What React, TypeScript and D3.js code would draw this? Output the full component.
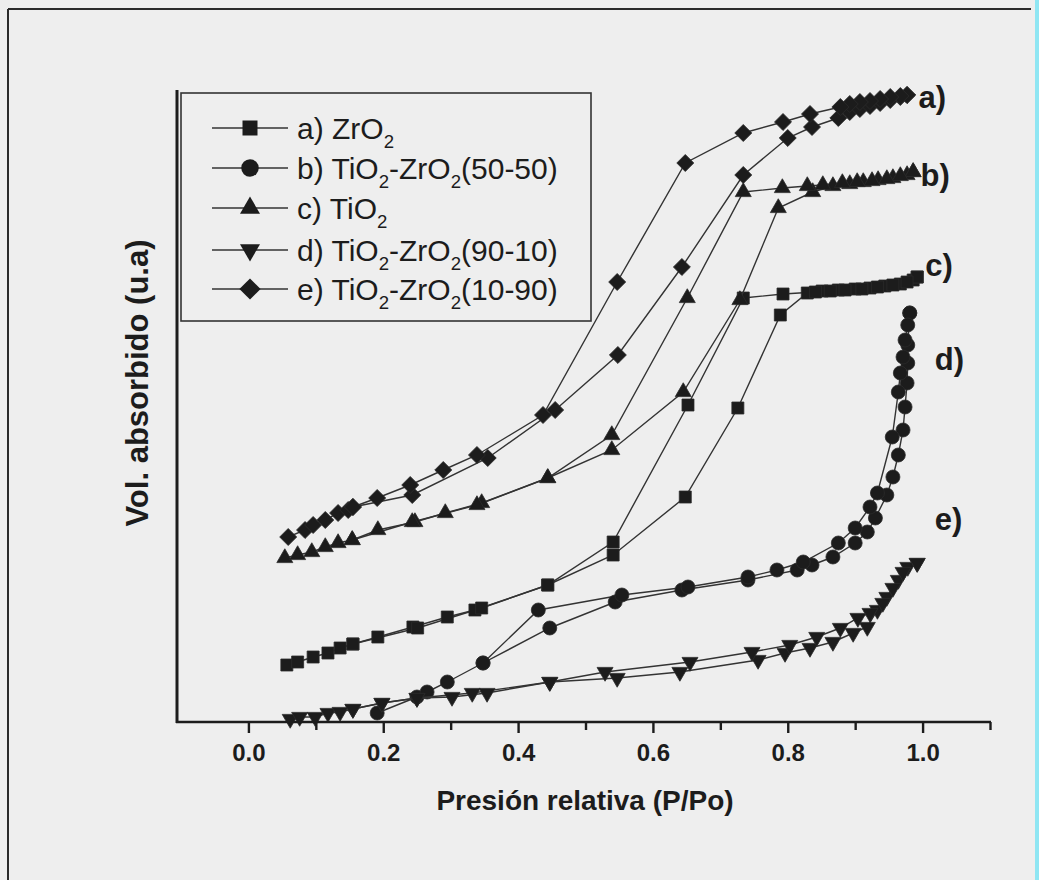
import React, { useEffect, useRef } from "react";
import * as d3 from "d3";

const W = 1039;
const H = 880;

const xMajorTicks = [0, 0.2, 0.4, 0.6, 0.8, 1.0];
const xMinorTicks = [0.1, 0.3, 0.5, 0.7, 0.9, 1.1];

const seriesNames = [
  "a) ZrO_2",
  "b) TiO_2-ZrO_2(50-50)",
  "c) TiO_2",
  "d) TiO_2-ZrO_2(90-10)",
  "e) TiO_2-ZrO_2(10-90)",
];
const seriesSymbols = ["square", "circle", "triangle", "triangleDown", "diamond"];
const endLabels = ["a)", "b)", "c)", "d)", "e)"];
const endLabelAt: [number, number][] = [
  [0.994, 614],
  [0.997, 536],
  [1.004, 446],
  [1.018, 352],
  [1.018, 192],
];

// a) ZrO2 — squares (P/Po, vol. u.a.)
const zro2Ads: [number, number][] = [
  [0.057, 57], [0.073, 60], [0.096, 65], [0.118, 69], [0.136, 74], [0.155, 78],
  [0.192, 85], [0.244, 95], [0.295, 105], [0.336, 112], [0.444, 137],
  [0.541, 167], [0.648, 225], [0.726, 314], [0.789, 407], [0.829, 429],
  [0.851, 431], [0.875, 432], [0.9, 433], [0.922, 434], [0.944, 436],
  [0.967, 438], [0.986, 442], [0.992, 445],
];
const zro2Des: [number, number][] = [
  [0.992, 445], [0.977, 440], [0.956, 437], [0.933, 435], [0.91, 433],
  [0.885, 432], [0.863, 431], [0.841, 430], [0.793, 428], [0.734, 424],
  [0.652, 317], [0.541, 180], [0.444, 137], [0.346, 114], [0.251, 94], [0.155, 78],
];

// b) TiO2-ZrO2 (50-50) — circles
const tz5050Ads: [number, number][] = [
  [0.191, 9], [0.25, 25], [0.265, 30], [0.295, 40], [0.348, 59],
  [0.447, 94], [0.544, 120], [0.643, 132], [0.741, 142], [0.814, 152],
  [0.836, 157], [0.867, 165], [0.9, 179], [0.918, 190], [0.93, 204],
  [0.947, 227], [0.956, 245], [0.964, 267], [0.971, 292], [0.974, 315],
  [0.977, 339], [0.978, 359], [0.978, 377], [0.981, 409],
];
const tz5050Des: [number, number][] = [
  [0.981, 409], [0.978, 397], [0.974, 382], [0.971, 365], [0.967, 349],
  [0.964, 330], [0.955, 285], [0.933, 229], [0.922, 215], [0.9, 194],
  [0.875, 179], [0.823, 160], [0.784, 152], [0.741, 145], [0.652, 135],
  [0.554, 127], [0.43, 112], [0.348, 59],
];

// c) TiO2 — triangles
const tio2Ads: [number, number][] = [
  [0.054, 164], [0.073, 167], [0.094, 170], [0.114, 175], [0.133, 179],
  [0.154, 182], [0.192, 192], [0.247, 200], [0.292, 209], [0.346, 219],
  [0.444, 244], [0.539, 272], [0.645, 330], [0.729, 422], [0.786, 514],
  [0.837, 530], [0.867, 536], [0.892, 538], [0.912, 540], [0.934, 542],
  [0.956, 544], [0.977, 547], [0.986, 550],
];
const tio2Des: [number, number][] = [
  [0.986, 550], [0.967, 546], [0.947, 543], [0.925, 541], [0.903, 540],
  [0.881, 539], [0.852, 537], [0.829, 536], [0.792, 534], [0.734, 530],
  [0.651, 424], [0.539, 287], [0.444, 244], [0.339, 217], [0.243, 200], [0.154, 182],
];

// d) TiO2-ZrO2 (90-10) — down triangles
const tz9010Ads: [number, number][] = [
  [0.062, 3], [0.076, 5], [0.099, 5], [0.118, 9], [0.136, 10], [0.155, 13],
  [0.198, 19], [0.25, 24], [0.332, 29], [0.447, 40], [0.547, 44],
  [0.64, 50], [0.756, 62], [0.796, 69], [0.833, 74], [0.867, 80],
  [0.897, 89], [0.918, 95], [0.933, 112], [0.947, 125], [0.964, 142],
  [0.978, 155], [0.992, 159],
];
const tz9010Des: [number, number][] = [
  [0.992, 159], [0.971, 150], [0.956, 134], [0.941, 119], [0.922, 109],
  [0.904, 104], [0.878, 94], [0.843, 85], [0.803, 77], [0.747, 70],
  [0.655, 60], [0.529, 50], [0.447, 40], [0.354, 29], [0.302, 25],
  [0.25, 24], [0.198, 19], [0.155, 13],
];

// e) TiO2-ZrO2 (10-90) — diamonds
const tz1090Ads: [number, number][] = [
  [0.059, 185], [0.084, 192], [0.096, 197], [0.114, 202], [0.133, 209],
  [0.148, 212], [0.155, 215], [0.243, 227], [0.355, 264], [0.455, 312],
  [0.548, 367], [0.643, 455], [0.734, 547], [0.8, 584], [0.836, 595],
  [0.875, 604], [0.892, 610], [0.907, 613], [0.922, 616], [0.937, 619],
  [0.952, 622], [0.967, 625], [0.977, 627],
];
const tz1090Des: [number, number][] = [
  [0.977, 627], [0.967, 626], [0.952, 625], [0.937, 623], [0.922, 621],
  [0.907, 620], [0.892, 618], [0.878, 615], [0.833, 608], [0.793, 600],
  [0.734, 589], [0.648, 559], [0.547, 440], [0.437, 307], [0.339, 267],
  [0.289, 252], [0.24, 237], [0.191, 224], [0.155, 215],
];

const seriesBranches: [number, number][][][] = [
  [zro2Ads, zro2Des],
  [tz5050Ads, tz5050Des],
  [tio2Ads, tio2Des],
  [tz9010Ads, tz9010Des],
  [tz1090Ads, tz1090Des],
];

const FONT = "'Liberation Sans', Arial, Helvetica, sans-serif";
const INK = "#1c1c1c";

function symbolPath(kind: string, s: number): string {
  if (kind === "circle") return d3.symbol(d3.symbolCircle, Math.PI * (s / 2) * (s / 2))() || "";
  if (kind === "triangle" || kind === "triangleDown")
    return d3.symbol(d3.symbolTriangle, (Math.sqrt(3) / 4) * s * s)() || "";
  return d3.symbol(d3.symbolSquare, s * s)() || "";
}
function symbolRotation(kind: string): number {
  if (kind === "diamond") return 45;
  if (kind === "triangleDown") return 180;
  return 0;
}
const markerSize: Record<string, number> = {
  square: 12,
  circle: 14,
  triangle: 16,
  triangleDown: 16,
  diamond: 12,
};

function LabelText({ label, x, y, size }: { label: string; x: number; y: number; size: number }) {
  const parts = label.split("_");
  const subSize = size * 0.62;
  const shift = size * 0.3;
  const nodes: React.ReactNode[] = [<tspan key="p0">{parts[0]}</tspan>];
  for (let i = 1; i < parts.length; i++) {
    const rest = parts[i].slice(1);
    nodes.push(
      <tspan key={"s" + i} fontSize={subSize} dy={shift}>
        {parts[i][0]}
      </tspan>
    );
    if (rest.length > 0) {
      nodes.push(
        <tspan key={"r" + i} fontSize={size} dy={-shift}>
          {rest}
        </tspan>
      );
    }
  }
  return (
    <text x={x} y={y} fontSize={size} fontFamily={FONT} fill={INK}>
      {nodes}
    </text>
  );
}

export default function App() {
  const x = d3.scaleLinear().domain([-0.1, 1.1]).range([181, 990]);
  const y = d3.scaleLinear().domain([0, 632]).range([722, 90]);
  const line = d3
    .line<[number, number]>()
    .x((d) => x(d[0]))
    .y((d) => y(d[1]));

  const majorRef = useRef<SVGGElement>(null);
  const minorRef = useRef<SVGGElement>(null);

  useEffect(() => {
    if (majorRef.current) {
      const g = d3.select(majorRef.current);
      g.call(
        d3
          .axisBottom(x)
          .tickValues(xMajorTicks)
          .tickSize(11)
          .tickSizeOuter(0)
          .tickPadding(11)
          .tickFormat(d3.format(".1f") as any)
      );
      g.select(".domain").remove();
      g.selectAll(".tick line").attr("stroke", INK).attr("stroke-width", 2.4);
      g.selectAll(".tick text")
        .attr("fill", INK)
        .attr("font-size", 24)
        .attr("font-weight", "bold")
        .attr("font-family", FONT);
    }
    if (minorRef.current) {
      const g = d3.select(minorRef.current);
      g.call(
        d3
          .axisBottom(x)
          .tickValues(xMinorTicks)
          .tickSize(8)
          .tickSizeOuter(0)
          .tickFormat(() => "")
      );
      g.select(".domain").remove();
      g.selectAll(".tick text").remove();
      g.selectAll(".tick line").attr("stroke", INK).attr("stroke-width", 2.4);
    }
  }, []);

  const legendRows = [128, 168, 208, 250, 289];

  return (
    <svg
      width={W}
      height={H}
      viewBox={`0 0 ${W} ${H}`}
      style={{ position: "absolute", left: 0, top: 0, display: "block" }}
    >
      <rect x={0} y={0} width={W} height={H} fill="#eeeeee" />
      {/* page frame */}
      <line x1={8} y1={9} x2={1031} y2={9} stroke="#2a2a2a" strokeWidth={2} />
      <line x1={8} y1={9} x2={8} y2={H} stroke="#2a2a2a" strokeWidth={2} />
      <rect x={1035} y={0} width={4} height={H} fill="#8fe6f3" />

      {/* legend box */}
      <rect x={181} y={93} width={410} height={228} fill="none" stroke="#333" strokeWidth={1.6} />

      {/* series */}
      {seriesBranches.map((branches, si) => {
        const kind = seriesSymbols[si];
        const p = symbolPath(kind, markerSize[kind]);
        const rot = symbolRotation(kind);
        return (
          <g key={si}>
            {branches.map((b, bi) => (
              <path key={bi} d={line(b) || ""} fill="none" stroke="#333" strokeWidth={1.4} />
            ))}
            {branches.map((b, bi) =>
              b.map((d, di) => (
                <path
                  key={bi + "-" + di}
                  d={p}
                  transform={`translate(${x(d[0])},${y(d[1])}) rotate(${rot})`}
                  fill={INK}
                  stroke="#2b2b2b"
                  strokeWidth={0.8}
                />
              ))
            )}
          </g>
        );
      })}

      {/* axes */}
      <line x1={177} y1={90} x2={177} y2={723} stroke={INK} strokeWidth={3} />
      <line x1={176} y1={722} x2={991} y2={722} stroke={INK} strokeWidth={2.6} />
      <g ref={majorRef} transform="translate(0,722)" />
      <g ref={minorRef} transform="translate(0,722)" />

      {/* legend entries */}
      {seriesNames.map((name, i) => {
        const kind = seriesSymbols[i];
        const cy = legendRows[i];
        const big = markerSize[kind] * 1.25;
        return (
          <g key={name}>
            <line x1={212} y1={cy} x2={288} y2={cy} stroke="#333" strokeWidth={1.5} />
            <path
              d={symbolPath(kind, big)}
              transform={`translate(250,${cy}) rotate(${symbolRotation(kind)})`}
              fill={INK}
            />
            <LabelText label={name} x={297} y={cy + 11} size={30} />
          </g>
        );
      })}

      {/* end labels */}
      {endLabels.map((t, i) => (
        <text
          key={t}
          x={x(endLabelAt[i][0])}
          y={y(endLabelAt[i][1])}
          fontSize={31}
          fontWeight="bold"
          fontFamily={FONT}
          fill={INK}
        >
          {t}
        </text>
      ))}

      {/* axis titles */}
      <text
        x={585}
        y={810}
        textAnchor="middle"
        fontSize={28}
        fontWeight="bold"
        fontFamily={FONT}
        fill={INK}
      >
        Presión relativa (P/Po)
      </text>
      <text
        transform="translate(148,383) rotate(-90)"
        textAnchor="middle"
        fontSize={31}
        fontWeight="bold"
        fontFamily={FONT}
        fill={INK}
      >
        Vol. absorbido (u.a)
      </text>
    </svg>
  );
}
